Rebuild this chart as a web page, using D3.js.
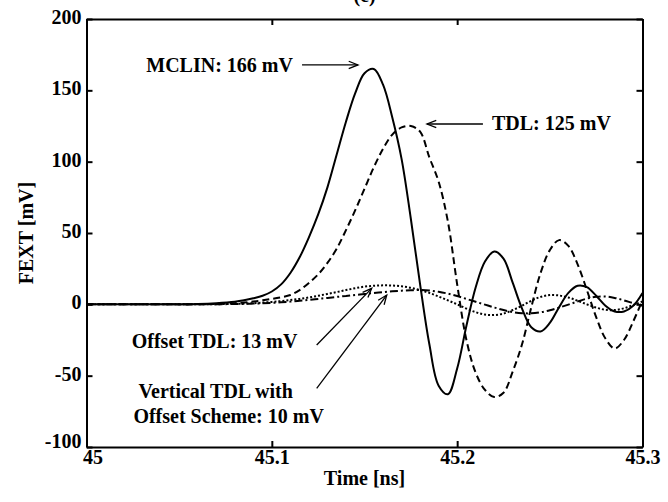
<!DOCTYPE html>
<meta charset="utf-8">
<style>
body {margin: 0; background: #fff;}
text {font-family: "Liberation Serif", "Times New Roman", serif; font-weight: bold; fill: #000;}
.axis path, .axis line {stroke: #000; stroke-width: 2;}
.axis text {font-size: 20px;}
.curve {fill: none; stroke: #000; stroke-width: 2;}
.note {font-size: 20px;}
.arrow {stroke: #000; stroke-width: 1.3; fill: none;}
</style>

<body>
<script src="https://cdn.jsdelivr.net/npm/d3@7"></script>
<div id="chart"></div>
</body>

<script>
// values (time in ns, FEXT in mV)
var time = [45.00, 45.02, 45.04, 45.06, 45.07, 45.08, 45.085, 45.09, 45.095, 45.10,
            45.105, 45.11, 45.115, 45.12, 45.125, 45.13, 45.135, 45.14, 45.145, 45.15,
            45.155, 45.16, 45.165, 45.17, 45.175, 45.18, 45.185, 45.19, 45.195, 45.20,
            45.205, 45.21, 45.215, 45.22, 45.225, 45.23, 45.235, 45.24, 45.245, 45.25,
            45.255, 45.26, 45.265, 45.27, 45.275, 45.28, 45.285, 45.29, 45.295, 45.30];
var mclin = [0, 0, 0, 0.3, 0.8, 1.8, 2.8, 4.2, 6, 9,
             14, 22, 33, 47, 63, 82, 105, 128, 148, 162,
             165, 154, 131, 102, 60, 14, -28, -57, -63, -45,
             -15, 12, 30, 37, 32, 15, -3, -16, -19, -13,
             -2, 8, 13, 12, 6, -1, -5, -5, -1, 8];
var tdl = [0, 0, 0, 0, 0.3, 0.8, 1.3, 2, 2.8, 3.8,
           5, 6.5, 10, 15, 21, 29, 39, 52, 66, 81,
           96, 109, 119, 124, 125, 121, 103, 86, 58, 14,
           -25, -48, -60, -65, -62, -47, -28, -2, 22, 38,
           45, 41, 28, 10, -9, -24, -31, -25, -12, 3];
var offsetTdl = [0, 0, 0, 0, 0.1, 0.3, 0.5, 0.8, 1.2, 1.7,
                 2.3, 3, 3.8, 4.8, 6, 7.3, 8.6, 10, 11.3, 12.4,
                 13, 13.3, 13.2, 12.6, 11.6, 10, 8, 5.5, 2.8, 0,
                 -3, -5.5, -7.2, -7.5, -6.5, -4, -1, 2.5, 5.2, 6.5,
                 6.2, 4.8, 2.5, 0, -2.3, -3.8, -4, -2.8, -0.5, 2];
var verticalTdl = [0, 0, 0, 0, 0.1, 0.2, 0.3, 0.5, 0.7, 1,
                   1.4, 1.9, 2.5, 3.1, 3.8, 4.5, 5.2, 5.9, 6.6, 7.2,
                   7.9, 8.5, 9.1, 9.6, 9.9, 10, 9.7, 8.8, 7.5, 5.8,
                   3.8, 1.8, -0.2, -2.2, -4, -5.4, -6.2, -6.3, -5.6, -4.2,
                   -2.3, -0.2, 2, 4, 5.3, 5.5, 4.5, 2.8, 0.8, -1];
var xTicks = [45, 45.1, 45.2, 45.3];
var xTickLabels = ["45", "45.1", "45.2", "45.3"];
var yTicks = [-100, -50, 0, 50, 100, 150, 200];
var yTickLabels = ["-100", "-50", "0", "50", "100", "150", "200"];

var width = 668,
    height = 502,
    margin = {top: 19, right: 25.5, bottom: 55, left: 86.5},
    w = width - margin.left - margin.right,
    h = height - margin.top - margin.bottom;

var x = d3.scaleLinear().domain([45, 45.3]).range([0, w]);
var y = d3.scaleLinear().domain([-100, 200]).range([h, 0]);

var svg = d3.select("#chart").append("svg")
    .attr("width", width)
    .attr("height", height);
var g = svg.append("g").attr("transform", "translate(" + margin.left + "," + margin.top + ")");

// axes, ticks point inward on all four sides
var xAxis = g.append("g").attr("class", "axis")
    .attr("transform", "translate(0," + h + ")")
    .call(d3.axisBottom(x).tickValues(xTicks).tickSizeInner(-6).tickSizeOuter(0).tickPadding(3)
        .tickFormat(function(d, i) { return xTickLabels[i]; }));
// first label sits a little right of its tick, as in the original
xAxis.selectAll(".tick text").attr("dx", function(d, i) { return i == 0 ? 6 : 0; });

g.append("g").attr("class", "axis")
    .call(d3.axisTop(x).tickValues(xTicks).tickSizeInner(-6).tickSizeOuter(0).tickFormat(""));
var yAxis = g.append("g").attr("class", "axis")
    .call(d3.axisLeft(y).tickValues(yTicks).tickSizeInner(-6).tickSizeOuter(0).tickPadding(5)
        .tickFormat(function(d, i) { return yTickLabels[i]; }));
// labels lifted a bit, the lowest one more so it clears the x labels
yAxis.selectAll(".tick text").attr("y", function(d) { return d == -100 ? -6 : -2; });

g.append("g").attr("class", "axis")
    .attr("transform", "translate(" + w + ",0)")
    .call(d3.axisRight(y).tickValues(yTicks).tickSizeInner(-6).tickSizeOuter(0).tickFormat(""));

// curves
var series = [
  {values: mclin, dash: null},
  {values: tdl, dash: "7,4"},
  {values: offsetTdl, dash: "2,2"},
  {values: verticalTdl, dash: "8,3,2,3"}
];
var line = d3.line()
    .x(function(d) { return x(d[0]); })
    .y(function(d) { return y(d[1]); })
    .curve(d3.curveCatmullRom.alpha(0.5));
g.selectAll(".curve").data(series).enter().append("path")
    .attr("class", "curve")
    .attr("stroke-dasharray", function(d) { return d.dash; })
    .attr("d", function(d) { return line(time.map(function(t, i) { return [t, d.values[i]]; })); });

// axis titles
svg.append("text")
    .attr("x", margin.left + w / 2).attr("y", 485)
    .attr("text-anchor", "middle").style("font-size", "20px")
    .text("Time [ns]");
svg.append("text")
    .attr("transform", "translate(33," + (margin.top + h / 2) + ") rotate(-90)")
    .attr("text-anchor", "middle").style("font-size", "20px")
    .text("FEXT [mV]");
// panel tag, clipped by the top edge like the original
svg.append("text")
    .attr("x", margin.left + w / 2).attr("y", 2)
    .attr("text-anchor", "middle").style("font-size", "20px")
    .text("(c)");

// annotations with arrows (arrow ends given in data units)
function arrow(x1, y1, x2, y2) {
  var px1 = x(x1), py1 = y(y1), px2 = x(x2), py2 = y(y2);
  var a = Math.atan2(py2 - py1, px2 - px1), len = 10, spread = 0.38;
  g.append("line").attr("class", "arrow")
      .attr("x1", px1).attr("y1", py1).attr("x2", px2).attr("y2", py2);
  g.append("path").attr("class", "arrow")
      .attr("d", "M" + (px2 - len * Math.cos(a - spread)) + "," + (py2 - len * Math.sin(a - spread)) +
                 "L" + px2 + "," + py2 +
                 "L" + (px2 - len * Math.cos(a + spread)) + "," + (py2 - len * Math.sin(a + spread)));
}
function note(tx, ty, label, anchor) {
  g.append("text").attr("class", "note")
      .attr("x", x(tx)).attr("y", y(ty))
      .attr("text-anchor", anchor || "start")
      .text(label);
}

note(45.1114, 162.8, "MCLIN: 166 mV", "end");
arrow(45.1163, 167.8, 45.1465, 167.8);

note(45.2188, 122.2, "TDL: 125 mV");
arrow(45.2139, 126.4, 45.1837, 126.4);

note(45.0244, -30.8, "Offset TDL: 13 mV");
arrow(45.1242, -28.5, 45.1539, 11.2);

note(45.0280, -65.9, "Vertical TDL with");
note(45.0253, -83.0, "Offset Scheme: 10 mV");
arrow(45.1242, -58.9, 45.1620, 6.5);
</script>
